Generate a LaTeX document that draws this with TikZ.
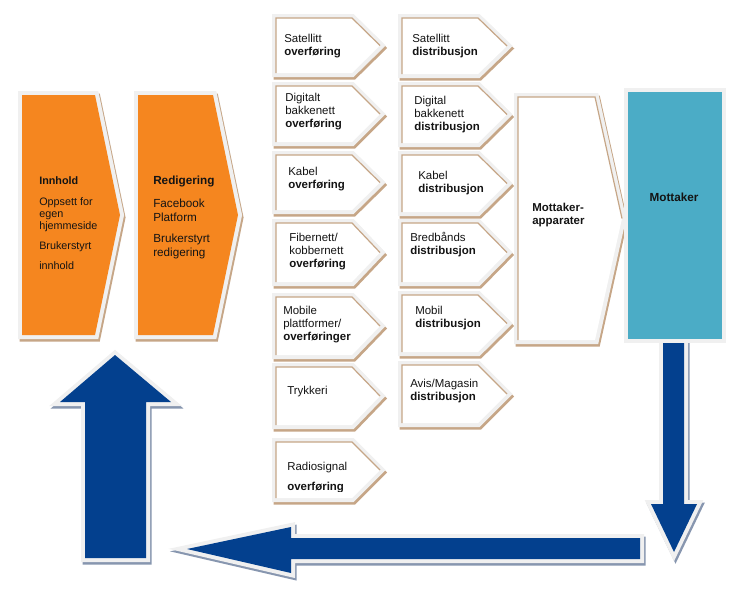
\documentclass[tikz,border=0pt]{standalone}
\usepackage{fontspec}
\setmainfont{Liberation Sans}
\definecolor{orangec}{RGB}{245,134,31}
\definecolor{tealc}{RGB}{75,172,198}
\definecolor{bluec}{RGB}{3,64,142}
\definecolor{tanc}{RGB}{198,166,135}
\definecolor{bordc}{RGB}{240,240,240}
\definecolor{bshad}{RGB}{135,150,175}
\newcommand\lns[2][10.1pt]{\vtop{\baselineskip=#1\halign{##\hfil\cr#2\crcr}}}
\newcommand\slab[4]{%
  \path[fill=#1,draw=#1,line width=6pt,#3,shift={(1.5,2.5)}] #4;
  \path[fill=bordc,draw=bordc,line width=6pt,#3] #4;
  \fill[#2] #4;}
\newcommand\wbox[5]{%
  \pgfmathsetmacro\Mid{(#2+#5)/2}%
  \slab{tanc}{white}{line join=miter,miter limit=2}{(#1,#2) -- (#3,#2) -- (#4,\Mid) -- (#3,#5) -- (#1,#5) -- cycle}
  \draw[tanc,line width=0.9pt,line join=miter] (#1,#5) -- (#1,#2) -- (#3,#2) -- (#4,\Mid);}
\begin{document}
\begin{tikzpicture}[x=0.75pt,y=-0.75pt,
  every node/.style={inner sep=0pt,text=black!92},
  txt/.style={anchor=base west,font=\fontsize{8.6}{10.1}\selectfont}]
\useasboundingbox (0,0) rectangle (734,593);
% blue arrows
\slab{bshad}{bluec}{line join=miter}{(115,355) -- (171,402) -- (146,402) -- (146,558) -- (85,558) -- (85,402) -- (60,402) -- cycle}
\slab{bshad}{bluec}{line join=miter}{(187,549) -- (291,527) -- (291,538) -- (640,538) -- (640,559) -- (291,559) -- (291,573) -- cycle}
\slab{bshad}{bluec}{line join=miter}{(674,552) -- (651,504) -- (663,504) -- (663,343) -- (684,343) -- (684,504) -- (697,504) -- cycle}
% orange chevrons
\slab{tanc}{orangec}{line join=miter,miter limit=2}{(22,95) -- (95,95) -- (120,215) -- (95,335) -- (22,335) -- cycle}
\slab{tanc}{orangec}{line join=miter,miter limit=2}{(138,95) -- (213,95) -- (238,215) -- (213,335) -- (138,335) -- cycle}
% column 1
\wbox{276}{18}{352}{380}{73}
\wbox{276}{86}{352}{380}{142}
\wbox{276}{155}{352}{380}{210}
\wbox{276}{223}{352}{380}{282}
\wbox{276}{297}{352}{380}{355}
\wbox{276}{367}{352}{380}{425}
\wbox{276}{442}{352}{380}{498}
% column 2
\wbox{402}{18}{478}{507}{74}
\wbox{402}{86}{478}{507}{143}
\wbox{402}{155}{478}{507}{212}
\wbox{402}{223}{478}{507}{282}
\wbox{402}{295}{478}{507}{352}
\wbox{402}{365}{478}{507}{423}
% Mottaker-apparater
\wbox{518}{97}{595}{622}{340}
% Mottaker
\path[fill=bordc,draw=bordc,line width=6pt,line join=miter] (628,92) rectangle (722,339);
\fill[tealc] (628,92) rectangle (722,339);
% texts
\node[txt,font=\fontsize{8.1}{9}\selectfont] (inn) at (39,184) {\lns[9pt]{\textbf{Innhold}\cr\noalign{\vskip6.75pt}Oppsett for\cr egen\cr hjemmeside\cr\noalign{\vskip6pt}Brukerstyrt\cr\noalign{\vskip6pt}innhold}};
\node[txt,font=\fontsize{8.8}{10.5}\selectfont] (red) at (153,184) {\lns[10.5pt]{\textbf{Redigering}\cr\noalign{\vskip6.75pt}Facebook\cr Platform\cr\noalign{\vskip5.25pt}Brukerstyrt\cr redigering}};
\node[txt] (a1) at (284,42) {\lns{Satellitt\cr\textbf{overføring}}};
\node[txt] (a2) at (285,101) {\lns{Digitalt\cr bakkenett\cr\textbf{overføring}}};
\node[txt] (a3) at (288,175) {\lns{Kabel\cr\textbf{overføring}}};
\node[txt] (a4) at (289,241) {\lns{Fibernett/\cr kobbernett\cr\textbf{overføring}}};
\node[txt] (a5) at (283,314) {\lns{Mobile\cr plattformer/\cr\textbf{overføringer}}};
\node[txt] (a6) at (287,394) {Trykkeri};
\begin{scope}
\clip (270,440) rectangle (385,491);
\node[txt] (a7) at (287,470) {\lns[15pt]{Radiosignal\cr\textbf{overføring}}};
\end{scope}
\node[txt] (b1) at (412,42) {\lns{Satellitt\cr\textbf{distribusjon}}};
\node[txt] (b2) at (414,104) {\lns{Digital\cr bakkenett\cr\textbf{distribusjon}}};
\node[txt] (b3) at (418,179) {\lns{Kabel\cr\textbf{distribusjon}}};
\node[txt] (b4) at (410,241) {\lns{Bredbånds\cr\textbf{distribusjon}}};
\node[txt] (b5) at (415,314) {\lns{Mobil\cr\textbf{distribusjon}}};
\node[txt] (b6) at (410,387) {\lns{Avis/Magasin\cr\textbf{distribusjon}}};
\node[txt,font=\fontsize{8.6}{10.1}\selectfont\bfseries] (app) at (532,211) {\lns{Mottaker-\cr apparater}};
\node[anchor=base,font=\fontsize{8.8}{10.5}\selectfont\bfseries] (mot) at (674,201) {Mottaker};
\end{tikzpicture}
\end{document}
